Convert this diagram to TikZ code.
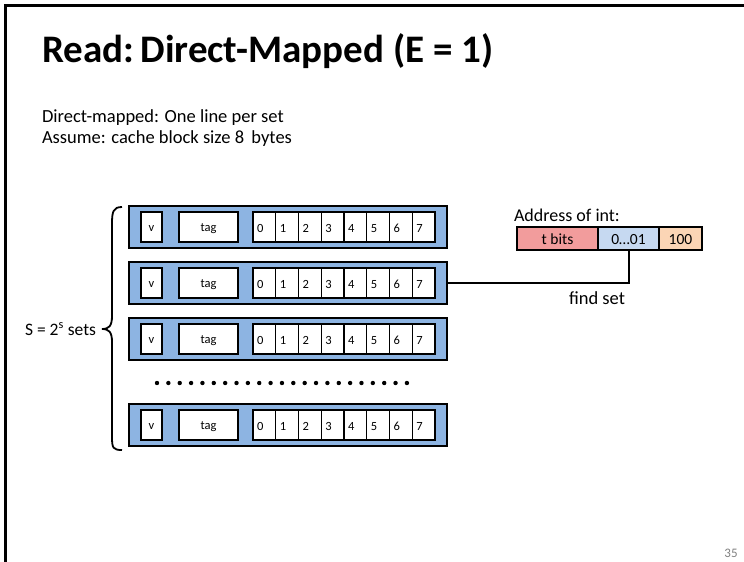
\documentclass[tikz,border=0pt]{standalone}
\usepackage{fontspec}
\setmainfont{Carlito}
\definecolor{rowblue}{HTML}{8DB4E2}
\definecolor{tagpink}{HTML}{F29C9C}
\definecolor{setblue}{HTML}{C6D9F1}
\definecolor{offpeach}{HTML}{FBD5B5}
\begin{document}
\begin{tikzpicture}[x=1pt,y=-1pt, every node/.style={outer sep=0pt},
  rowbox/.style={draw, line width=2.2pt, fill=rowblue, minimum width=318pt,
    minimum height=42pt, anchor=north west, inner sep=0pt},
  cellbox/.style={draw, line width=1.8pt, fill=white, anchor=west, inner sep=0pt,
    minimum height=30pt, text height=8.5pt, text depth=0pt,
    font=\fontsize{12.5}{14}\selectfont},
  bytebox/.style={draw, line width=1.2pt, fill=white, anchor=west, inner ysep=0pt,
    inner xsep=4pt, text width=14.75pt, align=left, minimum height=30pt,
    text height=10pt, text depth=0pt, font=\fontsize{12.5}{14}\selectfont},
  addrbox/.style={draw, line width=1.8pt, anchor=west, inner sep=0pt,
    minimum height=23pt, text height=11pt, text depth=0pt,
    font=\fontsize{15.5}{18}\selectfont},
  bodytext/.style={anchor=base west, inner sep=0pt, font=\fontsize{18.5}{22}\selectfont}]
\useasboundingbox (0,0) rectangle (744,562);
% slide frame
\draw[line width=3pt] (5,562) -- (5,5) -- (744,5);
% title and notes
\node[anchor=base west, inner sep=0pt, font=\fontsize{39}{44}\selectfont\bfseries]
  (title) at (42,62) {Read:\,Direct-Mapped (E = 1)};
\node[bodytext] (note1) at (42,122) {Direct-mapped: One line per set};
\node[bodytext] (note2) at (42,143) {Assume: cache block size 8\ \,bytes};
% cache sets
\foreach \i/\top in {1/206,2/262,3/318,4/404}{
  \pgfmathsetmacro{\cy}{\top+21}
  \node[rowbox] (row\i) at (129,\top) {};
  \node[cellbox, minimum width=21pt] (v\i) at (141,\cy) {v};
  \node[cellbox, minimum width=59pt] (tag\i) at (179,\cy) {tag};
  \foreach \j in {0,...,7}{
    \node[bytebox] (b\i-\j) at ({253+22.75*\j},\cy) {\j};
  }
  \draw[line width=1.8pt] (b\i-0.north west) rectangle (b\i-7.south east);
}
% elided sets
\foreach \k in {0,...,22}{
  \fill ({157+11.36*\k},383) circle (2.2);
}
% brace spanning all sets
\draw[line width=1.8pt]
  (122,207) .. controls (113,207) and (112,212) .. (112,224) -- (112,316)
  .. controls (112,326) and (109,329) .. (102,329)
  .. controls (109,329) and (112,332) .. (112,342) -- (112,437)
  .. controls (112,448) and (113,450) .. (122,450);
\node[anchor=east, inner sep=0pt, font=\fontsize{17.5}{20}\selectfont]
  (slabel) at (96,329) {S = 2\textsuperscript{s} sets};
% address
\node[anchor=base west, inner sep=0pt, font=\fontsize{18}{21}\selectfont]
  (addrlabel) at (514,221) {Address of int:};
\node[addrbox, fill=tagpink, minimum width=81pt] (tbits) at (517,238.5) {t bits};
\node[addrbox, fill=setblue, minimum width=61pt] (sbits) at (tbits.east) {0…01};
\node[addrbox, fill=offpeach, minimum width=43pt] (obits) at (sbits.east) {100};
\draw[line width=2pt] (sbits.south) |- (row2.east);
\node[inner sep=0pt, font=\fontsize{18.5}{21}\selectfont] (findset) at (597,298) {find set};
% slide number
\node[inner sep=0pt, text=gray, font=\fontsize{13}{15}\selectfont] (pagenum) at (731,553) {35};
\end{tikzpicture}
\end{document}
